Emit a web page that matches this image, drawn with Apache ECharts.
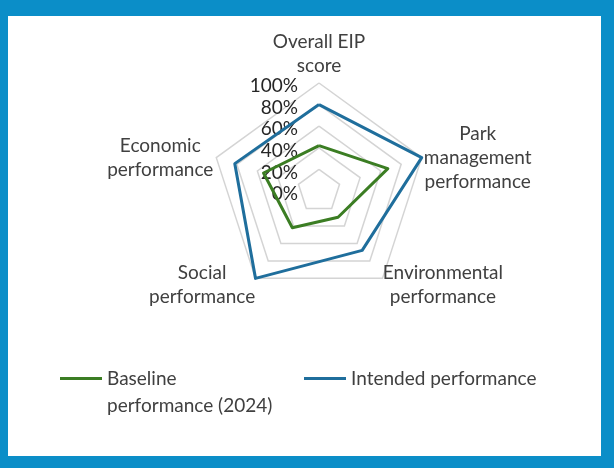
<!DOCTYPE html>
<html><head><meta charset="utf-8">
<script src="https://cdn.jsdelivr.net/npm/echarts@6/dist/echarts.min.js"></script>
<style>
html,body{margin:0;padding:0;background:#0b8ec8;width:614px;height:468px;overflow:hidden}
#c{position:absolute;left:8px;top:16px;width:593px;height:440px;background:#fff}
</style></head><body><div id="c"></div>
<script>
// Excel order (clockwise from top)
const categories = ['Overall EIP\nscore', 'Park\nmanagement\nperformance', 'Environmental\nperformance', 'Social\nperformance', 'Economic\nperformance'];
const baseline = [42, 67, 30, 42, 54];
const intended = [80, 100, 68, 100, 82];
const tickLabels = ['0%', '20%', '40%', '60%', '80%', '100%'];
const seriesNames = ['Baseline\nperformance (2024)', 'Intended performance'];

// ECharts radar runs counter-clockwise; reorder to draw clockwise like the original
const order = [0, 4, 3, 2, 1];
// per-category name placement
const nameVAlign = ['bottom', 'middle', 'middle', 'middle', 'middle'];
const nameGaps = [5, 0, 7.5, 7.5, 0];
const namePad = [[0, 0, 0, 0], [0, 0, 0, 112], [0, 0, 0, 112], [0, 98, 0, 0], [0, 112, 0, 0]];

const FONT = 'Lato, "Liberation Sans", sans-serif';
const indicators = order.map(function (i, k) {
  const ind = {
    name: categories[i], min: 0, max: 100,
    nameGap: nameGaps[i],
    nameMoveOverlap: false,
    nameTextStyle: { align: 'center', verticalAlign: nameVAlign[i], padding: namePad[i] }
  };
  if (k === 0) {
    ind.axisLabel = {
      show: true, showMinLabel: true, showMaxLabel: true, margin: 21,
      fontSize: 19, color: '#262626', fontFamily: FONT,
      formatter: function (v) { return '{t|' + tickLabels[Math.round(v / 20)] + '}'; },
      rich: { t: { fontSize: 19, color: '#262626', fontFamily: FONT, padding: [6, 0, 0, 0] } }
    };
  }
  return ind;
});

const chart = echarts.init(document.getElementById('c'), null, { renderer: 'canvas' });
chart.setOption({
  animation: false,
  backgroundColor: '#ffffff',
  legend: [
    {
      data: [seriesNames[0]], left: 47, top: 317, itemWidth: 42, itemHeight: 3, icon: 'rect',
      formatter: function (n) { return ' \n' + n; },
      textStyle: { fontSize: 19, color: '#404040', fontFamily: FONT, lineHeight: 27 }
    },
    {
      data: [seriesNames[1]], left: 291, top: 344, itemWidth: 42, itemHeight: 3, icon: 'rect',
      textStyle: { fontSize: 19, color: '#404040', fontFamily: FONT, lineHeight: 27 }
    }
  ],
  radar: {
    center: [311, 175],
    radius: 108,
    startAngle: 90,
    shape: 'polygon',
    splitNumber: 5,
    indicator: indicators,
    axisName: { color: '#404040', fontSize: 19, fontFamily: FONT, lineHeight: 24 },
    axisLine: { show: false },
    axisTick: { show: false },
    axisLabel: { show: false },
    splitLine: { lineStyle: { color: '#d4d4d4', width: 1.5 } },
    splitArea: { show: false }
  },
  series: [{
    type: 'radar',
    symbol: 'none',
    data: [
      { name: seriesNames[0], value: order.map(function (i) { return baseline[i]; }),
        lineStyle: { color: '#3b7d23', width: 3 }, itemStyle: { color: '#3b7d23' } },
      { name: seriesNames[1], value: order.map(function (i) { return intended[i]; }),
        lineStyle: { color: '#1f6e9c', width: 3 }, itemStyle: { color: '#1f6e9c' } }
    ]
  }]
});
</script></body></html>
